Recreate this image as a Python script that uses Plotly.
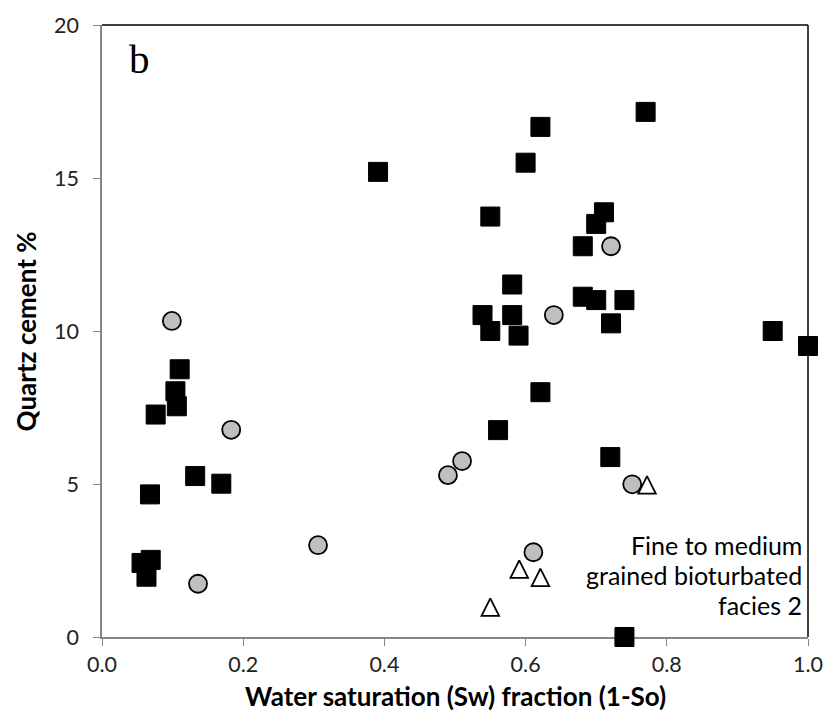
import plotly.graph_objects as go

# Quartz cement vs water saturation, fine to medium grained bioturbated facies 2
sq_x = [0.056, 0.069, 0.063, 0.068, 0.076, 0.104, 0.106, 0.110, 0.132, 0.169,
        0.391, 0.539, 0.550, 0.550, 0.561, 0.581, 0.581, 0.590, 0.600, 0.621,
        0.621, 0.681, 0.681, 0.700, 0.700, 0.711, 0.720, 0.721, 0.740, 0.740,
        0.770, 0.950, 1.000]
sq_y = [2.42, 2.52, 1.97, 4.66, 7.27, 8.03, 7.54, 8.75, 5.26, 5.01,
        15.2, 10.52, 10.0, 13.74, 6.76, 11.52, 10.52, 9.85, 15.5, 16.67,
        8.0, 12.77, 11.12, 13.5, 11.01, 13.88, 5.88, 10.25, 11.01, 0.0,
        17.16, 10.0, 9.51]

ci_x = [0.099, 0.136, 0.183, 0.306, 0.490, 0.510, 0.611, 0.640, 0.721, 0.751]
ci_y = [10.33, 1.74, 6.77, 3.0, 5.29, 5.75, 2.77, 10.52, 12.77, 4.99]

tr_x = [0.550, 0.591, 0.621, 0.772]
tr_y = [0.98, 2.22, 1.95, 4.97]

x_ticks = [0.0, 0.2, 0.4, 0.6, 0.8, 1.0]
y_ticks = [0, 5, 10, 15, 20]

note_lines = ["Fine to medium", "grained bioturbated", "facies 2"]

FONT = "Lato"
AXIS_GREY = "#868686"
W, H = 835, 728
M_L, M_R, M_T, M_B = 102, 23, 22, 91
Y_RANGE = [0, 20]
TRI_SIZE = 17.5

# The arrow-up symbol is an isosceles triangle whose apex sits on the point.
# Plotting it on an overlaid y axis shifted by half its height centres it.
px_per_unit = (H - M_T - M_B) / (Y_RANGE[1] - Y_RANGE[0])
tri_shift = (TRI_SIZE / 2) / px_per_unit

fig = go.Figure()
fig.add_trace(go.Scatter(
    x=sq_x, y=sq_y, mode="markers", cliponaxis=False,
    marker=dict(symbol="square", size=19, color="black",
                line=dict(color="black", width=1)),
))
fig.add_trace(go.Scatter(
    x=ci_x, y=ci_y, mode="markers", cliponaxis=False,
    marker=dict(symbol="circle", size=18, color="#BFBFBF",
                line=dict(color="black", width=1.8)),
))
fig.add_trace(go.Scatter(
    x=tr_x, y=tr_y, mode="markers", cliponaxis=False, yaxis="y2",
    marker=dict(symbol="arrow-up", size=TRI_SIZE, color="white",
                line=dict(color="black", width=1.8)),
))

fig.update_layout(
    width=W, height=H,
    margin=dict(l=M_L, r=M_R, t=M_T, b=M_B),
    paper_bgcolor="white", plot_bgcolor="white",
    showlegend=False,
    font=dict(family=FONT, size=21, color="#222222"),
    xaxis=dict(
        range=[0, 1], tickvals=x_ticks, tickformat=".1f",
        showgrid=False, zeroline=False,
        showline=True, linecolor=AXIS_GREY, linewidth=1.5,
        ticks="outside", ticklen=7, tickcolor=AXIS_GREY, tickwidth=1.2,
        tickfont=dict(family=FONT, size=21.5, color="#222222"),
        layer="below traces",
    ),
    yaxis=dict(
        range=Y_RANGE, tickvals=y_ticks,
        showgrid=False, zeroline=False,
        showline=True, linecolor=AXIS_GREY, linewidth=1.5,
        ticks="outside", ticklen=7, tickcolor=AXIS_GREY, tickwidth=1.2,
        tickfont=dict(family=FONT, size=21.5, color="#222222"),
        ticklabelstandoff=10,
        layer="below traces",
    ),
    yaxis2=dict(
        overlaying="y", range=[Y_RANGE[0] - tri_shift, Y_RANGE[1] - tri_shift],
        visible=False, showgrid=False, zeroline=False,
    ),
    shapes=[
        dict(type="line", xref="paper", yref="paper", x0=0, x1=1, y0=1, y1=1,
             line=dict(color="black", width=1.5), layer="below"),
        dict(type="line", xref="paper", yref="paper", x0=1, x1=1, y0=0, y1=1,
             line=dict(color="black", width=1.5), layer="below"),
    ],
)

fig.add_annotation(text="<b>Water saturation (Sw) fraction (1-So)</b>",
                   xref="paper", yref="paper", x=0.5, y=-0.096,
                   xanchor="center", yanchor="middle", showarrow=False,
                   font=dict(family=FONT, size=26, color="black"))
fig.add_annotation(text="<b>Quartz cement %</b>", textangle=-90,
                   xref="paper", yref="paper", x=-0.107, y=0.5,
                   xanchor="center", yanchor="middle", showarrow=False,
                   font=dict(family=FONT, size=26, color="black"))
fig.add_annotation(text="b", xref="paper", yref="paper", x=0.0535, y=0.945,
                   xanchor="center", yanchor="middle", showarrow=False,
                   font=dict(family="Liberation Serif", size=41, color="black"))

# three-line note, right aligned inside the lower right corner
for i, line in enumerate(note_lines):
    fig.add_annotation(text=line, xref="paper", yref="paper",
                       x=0.995, y=(637 - 545 - 30 * i) / 615,
                       xanchor="right", yanchor="middle", showarrow=False,
                       font=dict(family=FONT, size=25, color="black"))

fig.write_html("out.html")
